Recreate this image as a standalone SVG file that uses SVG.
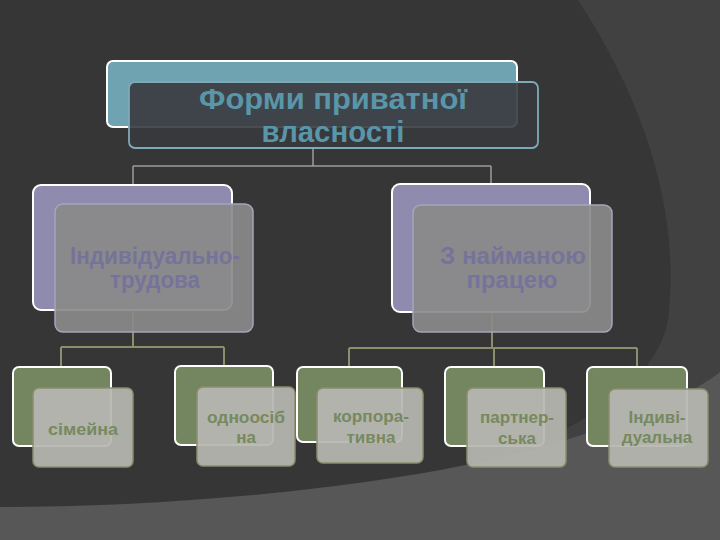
<svg xmlns="http://www.w3.org/2000/svg" width="720" height="540" viewBox="0 0 720 540">
<style>
.bk{stroke:#ffffff;stroke-width:2}
.t{font-family:"Liberation Sans",Arial,sans-serif;font-weight:bold;text-anchor:middle}
.c1{fill:none;stroke:#9c9c9c;stroke-width:1.5}
.c2{fill:none;stroke:#8c8e6c;stroke-width:2}
</style>
<rect width="720" height="540" fill="#414141"/>
<path d="M0,0 H578 C650,110 680,220 668,320 C655,390 560,450 400,485 C250,510 100,510 0,510 Z" fill="#363636"/>
<path d="M0,507 C200,507 450,482 590,432 C650,412 695,392 720,372 V540 H0 Z" fill="#575757"/>
<g id="connectors">
<path class="c1" d="M313,148 V166 M133,166 H491 M133,166 V185 M491,166 V184"/>
<path class="c2" d="M133,310 V347 M61,347 H224 M61,347 V367 M224,347 V366"/>
<path class="c2" d="M492,312 V348 M349,348 H637 M349,348 V367 M494,348 V367 M637,348 V367"/>
</g>
<g id="n0">
<rect class="bk" x="107" y="61" width="410" height="66" rx="6" fill="#6fa3b2"/>
<rect x="129" y="82" width="409" height="66" rx="6" fill="#383a3d" fill-opacity="0.9" stroke="#7eaab8" stroke-width="1.8"/>
<text class="t" x="333" y="109" font-size="29" fill="#5a96a9" textLength="268" lengthAdjust="spacingAndGlyphs">Форми приватної</text>
<text class="t" x="333" y="142" font-size="29" fill="#5a96a9" textLength="143" lengthAdjust="spacingAndGlyphs">власності</text>
</g>
<g id="n1">
<rect class="bk" x="33" y="185" width="199" height="125" rx="8" fill="#8e8bae"/>
<rect x="55" y="204" width="198" height="128" rx="8" fill="#8a8a8a" fill-opacity="0.92" stroke="#a7a4bd" stroke-width="1.5"/>
<text class="t" x="155" y="264" font-size="23" fill="#76739a" textLength="170" lengthAdjust="spacingAndGlyphs">Індивідуально-</text>
<text class="t" x="155" y="288" font-size="23" fill="#76739a" textLength="90" lengthAdjust="spacingAndGlyphs">трудова</text>
</g>
<g id="n2">
<rect class="bk" x="392" y="184" width="198" height="128" rx="8" fill="#8e8bae"/>
<rect x="413" y="205" width="199" height="127" rx="8" fill="#8a8a8a" fill-opacity="0.92" stroke="#a7a4bd" stroke-width="1.5"/>
<text class="t" x="513" y="264" font-size="23" fill="#76739a" textLength="146" lengthAdjust="spacingAndGlyphs">З найманою</text>
<text class="t" x="512" y="288" font-size="23" fill="#76739a" textLength="91" lengthAdjust="spacingAndGlyphs">працею</text>
</g>
<g id="n3">
<rect class="bk" x="13" y="367" width="98" height="79" rx="6" fill="#748660"/>
<rect x="33" y="388" width="100" height="79" rx="6" fill="#b7b7b1" fill-opacity="0.93" stroke="#8b8e6d" stroke-width="1.5"/>
<text class="t" x="83" y="435" font-size="17" fill="#76895f" textLength="70" lengthAdjust="spacingAndGlyphs">сімейна</text>
</g>
<g id="n4">
<rect class="bk" x="175" y="366" width="98" height="79" rx="6" fill="#748660"/>
<rect x="197" y="387" width="98" height="79" rx="6" fill="#b7b7b1" fill-opacity="0.93" stroke="#8b8e6d" stroke-width="1.5"/>
<text class="t" x="246" y="423" font-size="17" fill="#76895f" textLength="78" lengthAdjust="spacingAndGlyphs">одноосіб</text>
<text class="t" x="246" y="443" font-size="17" fill="#76895f">на</text>
</g>
<g id="n5">
<rect class="bk" x="297" y="367" width="105" height="75" rx="6" fill="#748660"/>
<rect x="317" y="388" width="106" height="75" rx="6" fill="#b7b7b1" fill-opacity="0.93" stroke="#8b8e6d" stroke-width="1.5"/>
<text class="t" x="371" y="422" font-size="17" fill="#76895f" textLength="76" lengthAdjust="spacingAndGlyphs">корпора-</text>
<text class="t" x="371" y="443" font-size="17" fill="#76895f">тивна</text>
</g>
<g id="n6">
<rect class="bk" x="445" y="367" width="99" height="79" rx="6" fill="#748660"/>
<rect x="467" y="388" width="99" height="79" rx="6" fill="#b7b7b1" fill-opacity="0.93" stroke="#8b8e6d" stroke-width="1.5"/>
<text class="t" x="517" y="423" font-size="17" fill="#76895f" textLength="74" lengthAdjust="spacingAndGlyphs">партнер-</text>
<text class="t" x="517" y="444" font-size="17" fill="#76895f">ська</text>
</g>
<g id="n7">
<rect class="bk" x="587" y="367" width="100" height="79" rx="6" fill="#748660"/>
<rect x="609" y="389" width="99" height="78" rx="6" fill="#b7b7b1" fill-opacity="0.93" stroke="#8b8e6d" stroke-width="1.5"/>
<text class="t" x="657" y="423" font-size="17" fill="#76895f">Індиві-</text>
<text class="t" x="657" y="443" font-size="17" fill="#76895f">дуальна</text>
</g>
</svg>
